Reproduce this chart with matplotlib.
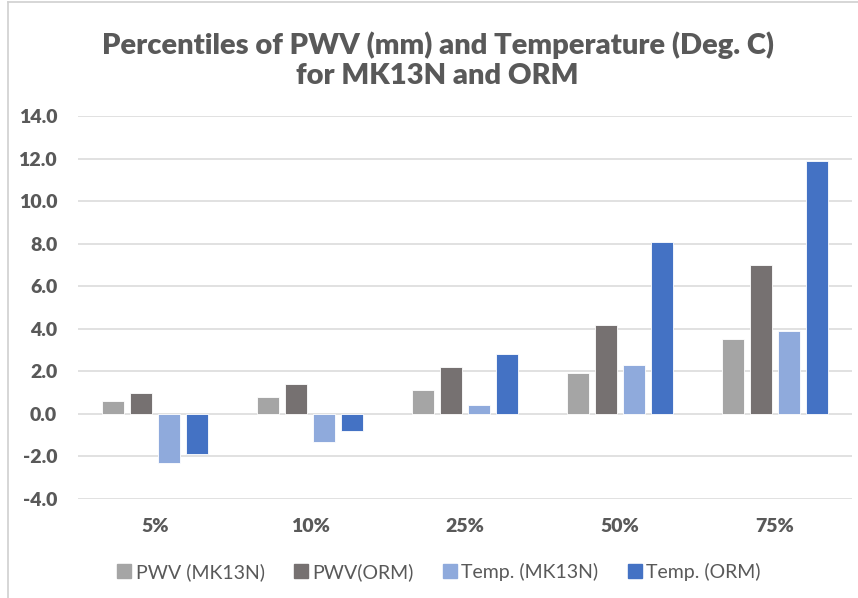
import numpy as np
import matplotlib
matplotlib.use('Agg')
import matplotlib.pyplot as plt
from matplotlib.lines import Line2D

# percentis
categorias = ['5%', '10%', '25%', '50%', '75%']
pwv_mk13n = [0.6, 0.8, 1.1, 1.9, 3.5]
pwv_orm = [1.0, 1.4, 2.2, 4.2, 7.0]
temp_mk13n = [-2.3, -1.3, 0.4, 2.3, 3.9]
temp_orm = [-1.9, -0.8, 2.8, 8.1, 11.9]

series = ['PWV (MK13N)', 'PWV(ORM)', 'Temp. (MK13N)', 'Temp. (ORM)']
cores = ['#A5A5A5', '#767171', '#8FAADC', '#4472C4']
cinza = '#595959'

plt.rcParams['font.family'] = ['Lato', 'DejaVu Sans']

fig = plt.figure(figsize=(8.58, 5.98), dpi=100)
ax = fig.add_axes([78/858, 1 - 499/598, (852 - 78)/858, (499 - 116)/598])

x = np.arange(len(categorias))
passo = 0.181
largura = 0.142
valores = [pwv_mk13n, pwv_orm, temp_mk13n, temp_orm]
for i, (vals, cor, nome) in enumerate(zip(valores, cores, series)):
    ax.bar(x + (i - 1.5) * passo, vals, width=largura, color=cor,
           edgecolor='white', linewidth=0.6, label=nome, zorder=3)

ax.set_xlim(-0.5, len(categorias) - 0.5)
ax.set_ylim(-4, 14)
ax.set_yticks(np.arange(-4, 14.1, 2))
ax.set_yticklabels([f'{v:.1f}' for v in np.arange(-4, 14.1, 2)])
ax.set_xticks(x)
ax.set_xticklabels(categorias)

ax.grid(axis='y', color='#D9D9D9', linewidth=1.1, zorder=0)
ax.set_axisbelow(True)
for s in ax.spines.values():
    s.set_visible(False)
ax.tick_params(axis='both', length=0, labelsize=14, labelcolor=cinza)
ax.tick_params(axis='y', pad=15)
ax.tick_params(axis='x', pad=14)
for t in ax.get_xticklabels() + ax.get_yticklabels():
    t.set_fontweight('heavy')

fig.text(0.51, 1 - 60/598, 'Percentiles of PWV (mm) and Temperature (Deg. C)\nfor MK13N and ORM',
         ha='center', va='center', fontsize=21, fontweight='heavy', color=cinza,
         linespacing=1.2)

# legenda embaixo
handles = [Line2D([], [], marker='s', linestyle='none', markersize=10,
                  markerfacecolor=c, markeredgecolor=c) for c in cores]
fig.legend(handles, series, loc='center', bbox_to_anchor=(0.51, 1 - 572/598),
           ncol=4, frameon=False, fontsize=14, labelcolor=cinza,
           handletextpad=0.1, columnspacing=1.35, handlelength=1.0)

# borda do grafico
fig.add_artist(Line2D([8/858, 8/858], [0, 1 - 2/598], color='#D0D0D0', linewidth=1.2))
fig.add_artist(Line2D([8/858, 1], [1 - 2/598, 1 - 2/598], color='#D0D0D0', linewidth=1.2))

fig.savefig('out.png', dpi=100)
